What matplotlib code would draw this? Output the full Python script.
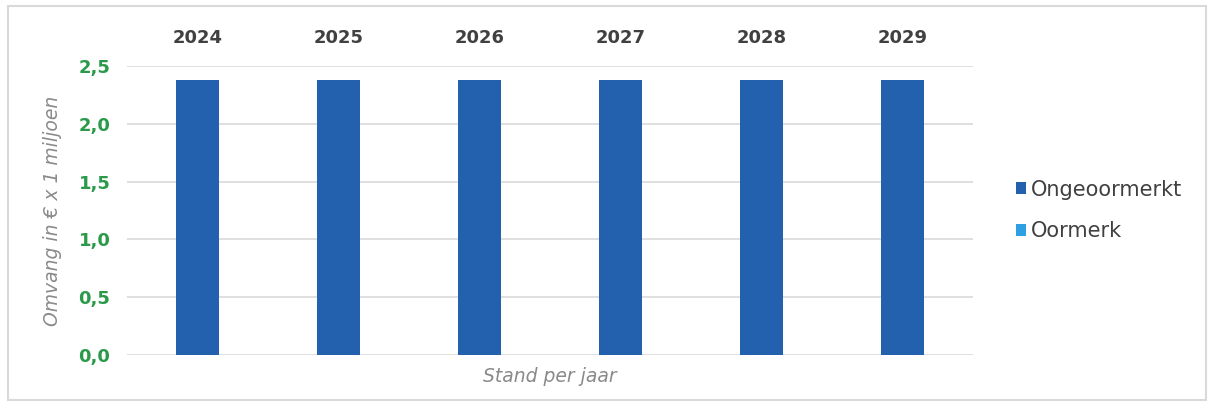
# budget per jaar: ongeoormerkt vs oormerk

import matplotlib.pyplot as plt
import numpy as np
from matplotlib.patches import Rectangle

jaren = ['2024', '2025', '2026', '2027', '2028', '2029']
ongeoormerkt = [2.38, 2.38, 2.38, 2.38, 2.38, 2.38]
oormerk = [0, 0, 0, 0, 0, 0]
yticks = [0.0, 0.5, 1.0, 1.5, 2.0, 2.5]

plt.rcParams['font.family'] = ['DejaVu Sans']

fig = plt.figure(figsize=(12.14, 4.12), dpi=100)
fig.patches.append(Rectangle((0.007, 0.03), 0.986, 0.955, transform=fig.transFigure,
                             fill=False, edgecolor='#d9d9d9', linewidth=1.5))
ax = fig.add_axes([0.1046, 0.1383, 0.697, 0.7015])

x = np.arange(len(jaren))
ax.bar(x, ongeoormerkt, width=0.31, color='#2360ad', label='Ongeoormerkt', zorder=3)
ax.bar(x, oormerk, width=0.31, bottom=ongeoormerkt, color='#2e9fe3', label='Oormerk', zorder=3)

ax.set_xlim(-0.5, len(jaren) - 0.5)
ax.set_ylim(0, 2.5)
ax.set_yticks(yticks)
ax.set_yticklabels([f'{v:.1f}'.replace('.', ',') for v in yticks],
                   color='#2a9a4a', fontsize=13, fontweight='bold')
ax.grid(axis='y', color='#d9d9d9', linewidth=1.2, zorder=0)
ax.tick_params(axis='y', length=0, pad=12)

ax.xaxis.tick_top()
ax.set_xticks(x)
ax.set_xticklabels(jaren, color='#404040', fontsize=13, fontweight='bold')
ax.tick_params(axis='x', length=0, pad=14)

for s in ax.spines.values():
    s.set_visible(False)

ax.set_ylabel('Omvang in € x 1 miljoen', style='italic', color='#8a8a8a', fontsize=13.5, labelpad=12)
ax.text(0.5, -0.04, 'Stand per jaar', transform=ax.transAxes, ha='center', va='top',
        style='italic', color='#8a8a8a', fontsize=13.5)

ax.legend(loc='center left', bbox_to_anchor=(1.028, 0.5), frameon=False, fontsize=15,
          handlelength=0.5, handleheight=0.5, handletextpad=0.25, labelspacing=1.05,
          labelcolor='#404040')

plt.savefig('out.png', dpi=100)
